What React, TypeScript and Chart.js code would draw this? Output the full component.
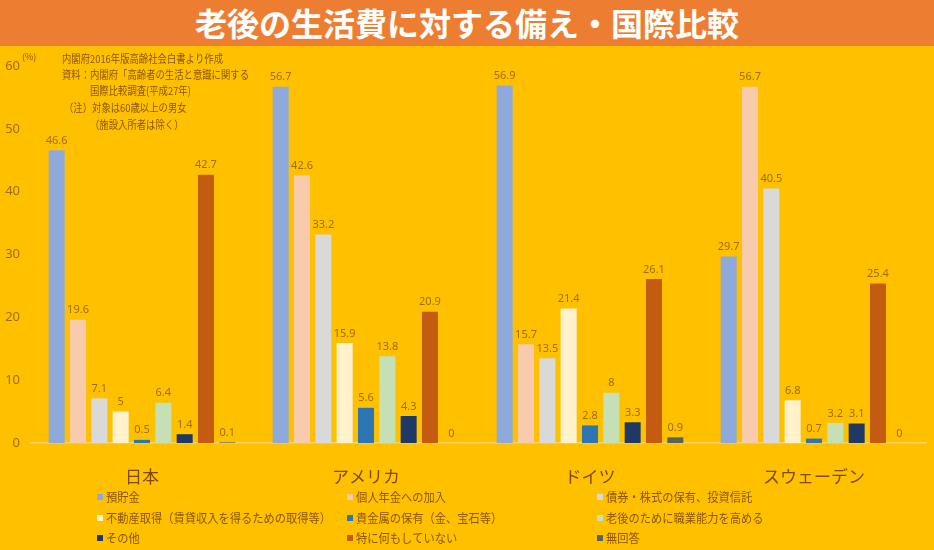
import React, { useEffect, useRef } from "react";
import { Chart, registerables } from "chart.js";

Chart.register(...registerables);

const title = "老後の生活費に対する備え・国際比較";
const countries = ["日本", "アメリカ", "ドイツ", "スウェーデン"];
const seriesNames = [
  "預貯金",
  "個人年金への加入",
  "債券・株式の保有、投資信託",
  "不動産取得（賃貸収入を得るための取得等）",
  "貴金属の保有（金、宝石等）",
  "老後のために職業能力を高める",
  "その他",
  "特に何もしていない",
  "無回答",
];
const savings = [46.6, 56.7, 56.9, 29.7];
const pension = [19.6, 42.6, 15.7, 56.7];
const securities = [7.1, 33.2, 13.5, 40.5];
const realEstate = [5, 15.9, 21.4, 6.8];
const metals = [0.5, 5.6, 2.8, 0.7];
const skills = [6.4, 13.8, 8, 3.2];
const other = [1.4, 4.3, 3.3, 3.1];
const nothing = [42.7, 20.9, 26.1, 25.4];
const noAnswer = [0.1, 0, 0.9, 0];
const seriesValues = [savings, pension, securities, realEstate, metals, skills, other, nothing, noAnswer];
const seriesColors = ["#8EA9DB", "#F8CBAD", "#D9D9D9", "#FFF2CC", "#2E75B6", "#C5E0B4", "#203864", "#C55A11", "#56655A"];
const yTicks = [0, 10, 20, 30, 40, 50, 60];
const notes = [
  { text: "内閣府2016年版高齢社会白書より作成", x: 62, y: 14 },
  { text: "資料：内閣府「高齢者の生活と意識に関する", x: 62, y: 30 },
  { text: "国際比較調査(平成27年)", x: 90, y: 46 },
  { text: "（注）対象は60歳以上の男女", x: 64, y: 63 },
  { text: "（施設入所者は除く）", x: 90, y: 80 },
];

const BG = "#FFC000";
const TXT = "#8C5600";

function condensed(ctx: CanvasRenderingContext2D, text: string, x: number, y: number, sx: number) {
  ctx.save();
  ctx.translate(x, y);
  ctx.scale(sx, 1);
  ctx.fillText(text, 0, 0);
  ctx.restore();
}

const overlayPlugin = {
  id: "overlay",
  afterDatasetsDraw(chart: any) {
    const ctx = chart.ctx;
    ctx.save();
    ctx.font = '11px "Noto Sans", sans-serif';
    ctx.fillStyle = "#A06C00";
    ctx.textAlign = "center";
    ctx.textBaseline = "bottom";
    chart.data.datasets.forEach((ds: any, i: number) => {
      const meta = chart.getDatasetMeta(i);
      meta.data.forEach((bar: any, j: number) => {
        ctx.fillText(String(ds.data[j]), bar.x, bar.y - 4);
      });
    });
    ctx.restore();
  },
  afterDraw(chart: any) {
    const ctx = chart.ctx;
    ctx.save();
    ctx.fillStyle = TXT;
    ctx.textBaseline = "middle";
    ctx.textAlign = "left";
    ctx.font = '9px "Noto Sans CJK JP", sans-serif';
    ctx.fillText("(%)", 22, 12);
    ctx.font = '11px "Noto Sans CJK JP", sans-serif';
    notes.forEach((n) => condensed(ctx, n.text, n.x, n.y, 0.85));
    // legend
    const colX = [97, 347, 597];
    const rowY = [452, 473, 493];
    ctx.font = '12.5px "Noto Sans CJK JP", sans-serif';
    chart.data.datasets.forEach((ds: any, i: number) => {
      const x = colX[i % 3];
      const y = rowY[Math.floor(i / 3)];
      ctx.fillStyle = ds.backgroundColor;
      ctx.fillRect(x, y - 3, 6, 6);
      ctx.fillStyle = TXT;
      condensed(ctx, ds.label, x + 9, y, 0.9);
    });
    ctx.restore();
  },
};

export default function App() {
  const ref = useRef<HTMLCanvasElement>(null);
  useEffect(() => {
    document.body.style.margin = "0";
    const chart = new Chart(ref.current!, {
      type: "bar",
      data: {
        labels: countries,
        datasets: seriesNames.map((name, i) => ({
          label: name,
          data: seriesValues[i],
          backgroundColor: seriesColors[i],
          borderWidth: 0,
          categoryPercentage: 0.857,
          barPercentage: 0.75,
        })),
      },
      options: {
        responsive: false,
        animation: false,
        layout: { padding: { top: 21, right: 8, left: 0, bottom: 0 } },
        plugins: { legend: { display: false }, tooltip: { enabled: false } },
        scales: {
          x: {
            grid: { display: false, drawTicks: false },
            border: { display: true, color: "#F6D46A", width: 1.5 },
            ticks: { color: "#7F4A00", font: { size: 17, family: '"Noto Sans CJK JP", sans-serif' }, padding: 23 },
            afterFit: (s: any) => {
              s.height = 107;
            },
          },
          y: {
            min: 0,
            max: 60,
            afterBuildTicks: (s: any) => {
              s.ticks = yTicks.map((v) => ({ value: v }));
            },
            grid: { display: false, drawTicks: false },
            border: { display: false },
            ticks: { color: "#A06C00", font: { size: 13, family: '"Noto Sans", sans-serif' }, padding: 10 },
            afterFit: (s: any) => {
              s.width = 30;
            },
          },
        },
      },
      plugins: [overlayPlugin],
    });
    return () => chart.destroy();
  }, []);
  return (
    <div style={{ position: "relative", width: 934, height: 550, background: BG, overflow: "hidden" }}>
      <div
        style={{
          position: "absolute",
          left: 0,
          top: 0,
          width: 934,
          height: 46,
          background: "#ED7D31",
          color: "#FFFFFF",
          fontFamily: '"Noto Sans CJK JP", sans-serif',
          fontWeight: 700,
          fontSize: 32,
          lineHeight: "44px",
          textAlign: "center",
          letterSpacing: 0,
        }}
      >
        {title}
      </div>
      <canvas ref={ref} width={934} height={505} style={{ position: "absolute", left: 0, top: 45, display: "block" }} />
    </div>
  );
}
